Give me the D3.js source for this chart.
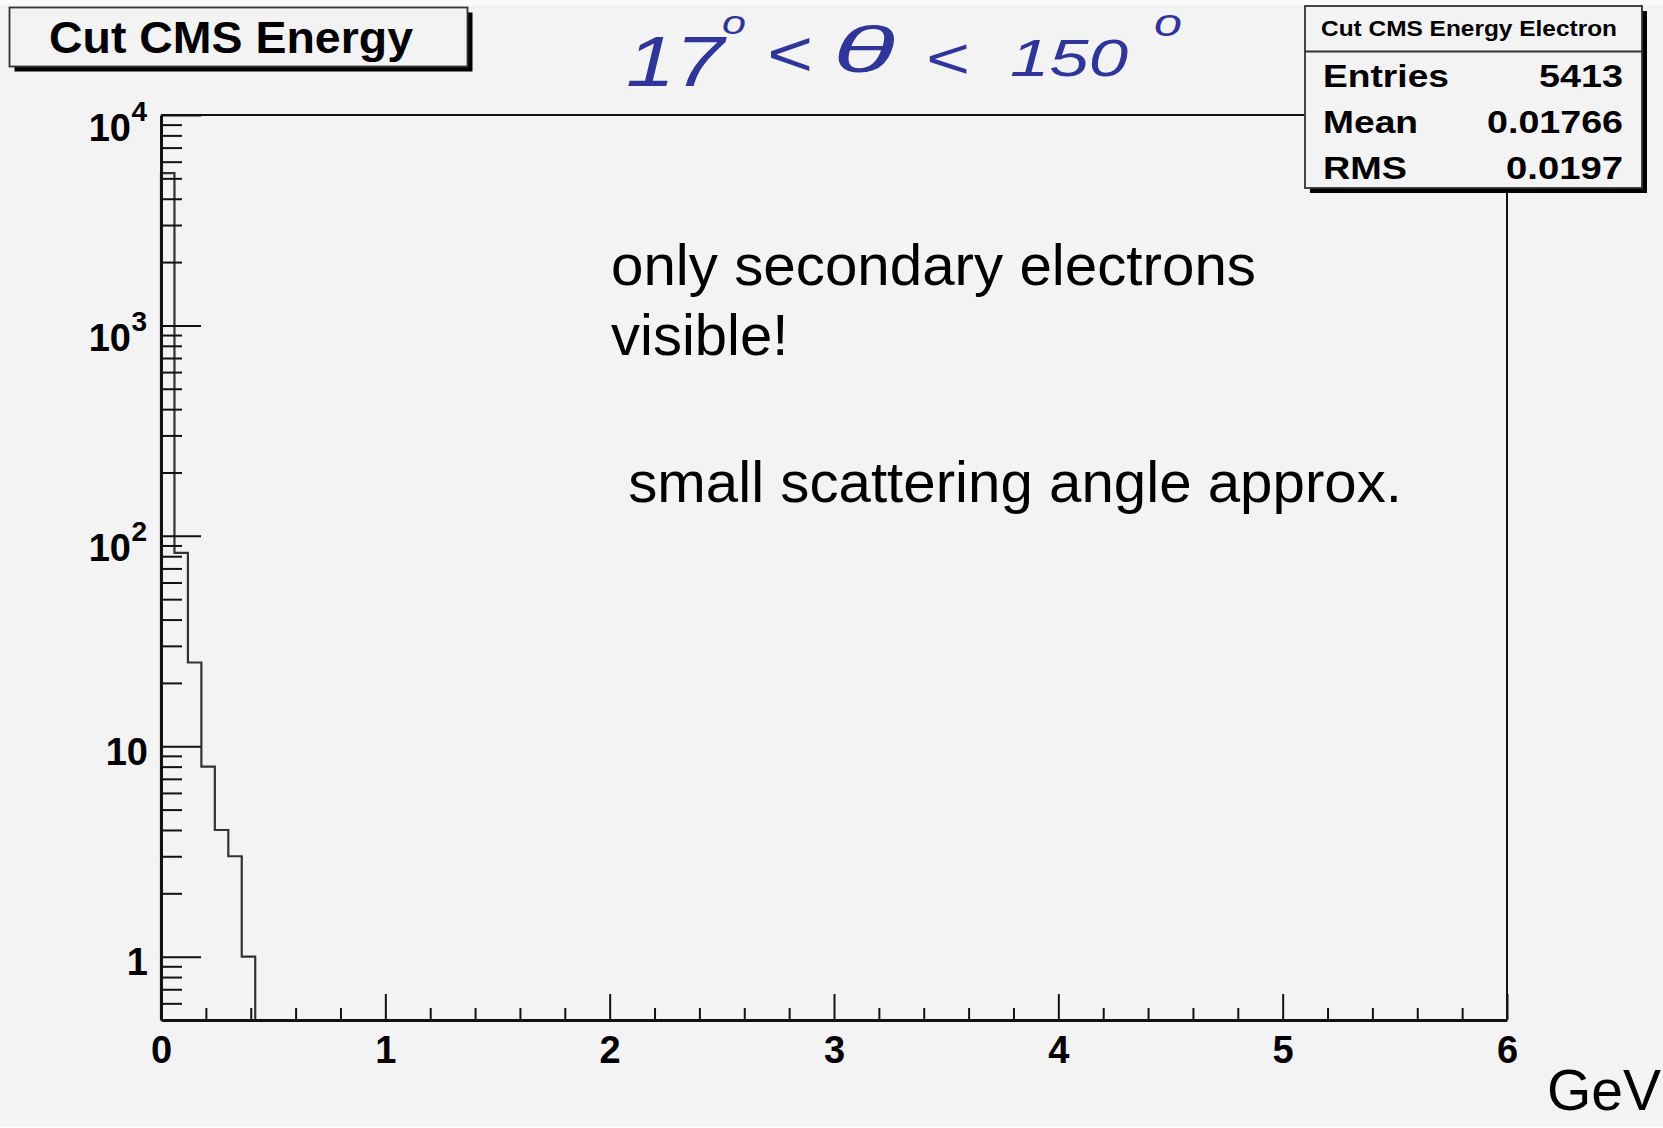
<!DOCTYPE html>
<html><head><meta charset="utf-8">
<script src="https://cdn.jsdelivr.net/npm/d3@7"></script>
<style>html,body{margin:0;padding:0;background:#f3f3f3;} svg{display:block;}</style>
</head><body><svg id="c" width="1663" height="1128"></svg>
<script>
// ---------------- data ----------------
const binLow   = [0.00, 0.06, 0.12, 0.18, 0.24, 0.30, 0.36];
const binWidth = 0.06;
const counts   = [5289, 83, 25, 8, 4, 3, 1];
const xMajorTicks = [0, 1, 2, 3, 4, 5, 6];
const xTickLabels = ["0", "1", "2", "3", "4", "5", "6"];
const yMajorTicks = [1, 10, 100, 1000, 10000];
const yTickBase   = ["1", "10", "10", "10", "10"];
const yTickExp    = ["", "", "2", "3", "4"];
const yMinorMult  = [2, 3, 4, 5, 6, 7, 8, 9];
const yMinorBelow = [0.6, 0.7, 0.8, 0.9];
const title = "Cut CMS Energy";
const statsTitle = "Cut CMS Energy Electron";
const statsLabels = ["Entries", "Mean", "RMS"];
const statsValues = ["5413", "0.01766", "0.0197"];
const xUnit = "GeV";
const notes = ["only secondary electrons", "visible!", " small scattering angle approx."];

// ---------------- drawing ----------------
const svg = d3.select("#c");
const W = 1663, H = 1128;
const FONT = "'Liberation Sans', Arial, Helvetica, sans-serif";
const L = 161, R = 1507, T = 115, B = 1020;

svg.append("rect").attr("width", W).attr("height", H).attr("fill", "#f3f3f3");
svg.append("rect").attr("width", W).attr("height", 5).attr("fill", "#fbfbfb");
svg.append("rect").attr("y", H - 2).attr("width", W).attr("height", 2).attr("fill", "#fbfbfb");

const x = d3.scaleLinear().domain([0, 6]).range([L, R]);
const y = d3.scaleLog().domain([0.5, 10000]).range([B, T]);

// frame top & right
svg.append("path")
  .attr("d", `M${L},${T}H${R}V${B}`)
  .attr("fill", "none").attr("stroke", "#111").attr("stroke-width", 2);

// histogram
const pts = [[binLow[0], y.domain()[0]]];
counts.forEach((c, i) => { pts.push([binLow[i], c]); pts.push([binLow[i] + binWidth, c]); });
pts.push([binLow[binLow.length - 1] + binWidth, y.domain()[0]]);
svg.append("path")
  .attr("d", d3.line().x(d => x(d[0])).y(d => y(d[1]))(pts))
  .attr("fill", "none").attr("stroke", "#333").attr("stroke-width", 2.2);

// x axis minor
const xMinor = d3.range(0, 6.0001, 0.2).filter(v => Math.abs(v - Math.round(v)) > 1e-6);
const gxm = svg.append("g").attr("transform", `translate(0,${B})`)
  .call(d3.axisBottom(x).tickValues(xMinor).tickSizeInner(-12).tickSizeOuter(0).tickFormat(""));
gxm.select(".domain").remove();
gxm.selectAll("line").attr("stroke", "#111").attr("stroke-width", 2);

// x axis major
const gx = svg.append("g").attr("transform", `translate(0,${B})`)
  .call(d3.axisBottom(x).tickValues(xMajorTicks).tickSizeInner(-26).tickSizeOuter(0)
        .tickFormat((d, i) => xTickLabels[i]));
gx.select(".domain").attr("stroke", "#111").attr("stroke-width", 3);
gx.selectAll("line").attr("stroke", "#111").attr("stroke-width", 2);
gx.selectAll("text").attr("y", 43).attr("dy", null)
  .attr("font-family", FONT).attr("font-weight", "bold").attr("font-size", 38).attr("fill", "#000");

// y axis minor
const yMinor = yMinorBelow.slice();
[1, 10, 100, 1000].forEach(d => yMinorMult.forEach(m => yMinor.push(d * m)));
const gym = svg.append("g").attr("transform", `translate(${L},0)`)
  .call(d3.axisLeft(y).tickValues(yMinor).tickSizeInner(-21).tickSizeOuter(0).tickFormat(""));
gym.select(".domain").remove();
gym.selectAll("line").attr("stroke", "#111").attr("stroke-width", 2);

// y axis major
const gy = svg.append("g").attr("transform", `translate(${L},0)`)
  .call(d3.axisLeft(y).tickValues(yMajorTicks).tickSizeInner(-40).tickSizeOuter(0).tickPadding(13)
        .tickFormat(() => ""));
gy.select(".domain").attr("stroke", "#111").attr("stroke-width", 3);
gy.selectAll("line").attr("stroke", "#111").attr("stroke-width", 2);
gy.selectAll(".tick text").each(function(d, i) {
  const t = d3.select(this).attr("dy", null)
    .attr("font-family", FONT).attr("font-weight", "bold").attr("font-size", 38).attr("fill", "#000");
  if (yTickExp[i]) {
    t.attr("x", -30).attr("y", 25);
    t.append("tspan").text(yTickBase[i]);
    t.append("tspan").attr("font-size", 28).attr("dy", -20).attr("x", -14).text(yTickExp[i]);
  } else {
    t.attr("y", 18).text(yTickBase[i]);
  }
});

// title box
function shadowBox(x0, y0, w, h) {
  svg.append("rect").attr("x", x0 + 5).attr("y", y0 + 5).attr("width", w).attr("height", h).attr("fill", "#000");
  svg.append("rect").attr("x", x0).attr("y", y0).attr("width", w).attr("height", h)
    .attr("fill", "#f3f3f3").attr("stroke", "#333").attr("stroke-width", 1.8);
}
shadowBox(9.5, 7.5, 458, 59);
svg.append("text").attr("x", 49).attr("y", 53).text(title)
  .attr("font-family", FONT).attr("font-weight", "bold").attr("font-size", 45)
  .attr("textLength", 364).attr("lengthAdjust", "spacingAndGlyphs");

// stats box
shadowBox(1305, 6, 337, 182);
svg.append("line").attr("x1", 1305).attr("x2", 1642).attr("y1", 51.5).attr("y2", 51.5)
  .attr("stroke", "#333").attr("stroke-width", 1.8);
svg.append("text").attr("x", 1321).attr("y", 36).text(statsTitle)
  .attr("font-family", FONT).attr("font-weight", "bold").attr("font-size", 22)
  .attr("textLength", 296).attr("lengthAdjust", "spacingAndGlyphs");
const rowY = [87, 133, 179];
const labLen = [126, 95, 84];
const valLen = [84, 136, 117];
statsLabels.forEach((s, i) => {
  svg.append("text").attr("x", 1323).attr("y", rowY[i]).text(s)
    .attr("font-family", FONT).attr("font-weight", "bold").attr("font-size", 32)
    .attr("textLength", labLen[i]).attr("lengthAdjust", "spacingAndGlyphs");
  svg.append("text").attr("x", 1623 - valLen[i]).attr("y", rowY[i]).text(statsValues[i])
    .attr("font-family", FONT).attr("font-weight", "bold").attr("font-size", 32)
    .attr("textLength", valLen[i]).attr("lengthAdjust", "spacingAndGlyphs");
});

// annotations
const noteX = [611, 611, 612];
const noteY = [285, 355, 502];
const noteLen = [645, null, 790];
notes.forEach((s, i) => {
  const t = svg.append("text").attr("x", noteX[i]).attr("y", noteY[i]).text(s)
    .attr("font-family", FONT).attr("font-size", 58).attr("fill", "#000")
    .style("white-space", "pre").attr("xml:space", "preserve");
  if (noteLen[i]) t.attr("textLength", noteLen[i]).attr("lengthAdjust", "spacingAndGlyphs");
});
svg.append("text").attr("x", 1547).attr("y", 1110).text(xUnit)
  .attr("font-family", FONT).attr("font-size", 57).attr("fill", "#000");

// handwritten angle range  17° < θ < 150°
const HAND = "#2f3599";
const hand = [
  {t: "17",  x: 626,  y: 86, s: 70, len: 98},
  {t: "o",   x: 722,  y: 34, s: 34, len: 24},
  {t: "<",   x: 766,  y: 76, s: 64, len: 46},
  {t: "θ",   x: 833,  y: 72, s: 64, len: 62},
  {t: "<",   x: 925,  y: 78, s: 58, len: 44},
  {t: "150", x: 1010, y: 76, s: 52, len: 118},
  {t: "o",   x: 1154, y: 36, s: 38, len: 28}
];
hand.forEach(h => {
  svg.append("text").attr("x", h.x).attr("y", h.y).text(h.t)
    .attr("font-family", FONT).attr("font-style", "italic")
    .attr("font-size", h.s).attr("fill", HAND)
    .attr("textLength", h.len).attr("lengthAdjust", "spacingAndGlyphs");
});
</script>
</body></html>
